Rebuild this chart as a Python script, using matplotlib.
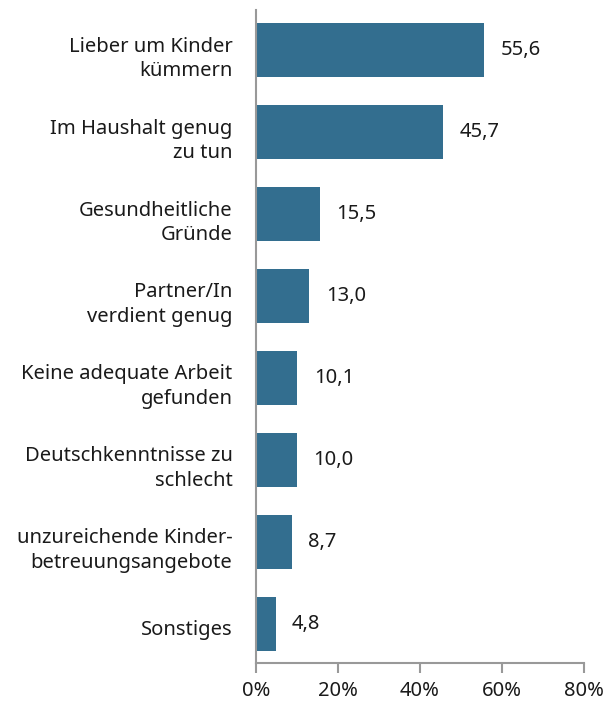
import matplotlib.pyplot as plt
import matplotlib.transforms as mtransforms
from matplotlib.ticker import FuncFormatter

categories = [
    "Lieber um Kinder\nkümmern",
    "Im Haushalt genug\nzu tun",
    "Gesundheitliche\nGründe",
    "Partner/In\nverdient genug",
    "Keine adequate Arbeit\ngefunden",
    "Deutschkenntnisse zu\nschlecht",
    "unzureichende Kinder-\nbetreuungsangebote",
    "Sonstiges",
]
values = [55.6, 45.7, 15.5, 13.0, 10.1, 10.0, 8.7, 4.8]
xticks = [0, 20, 40, 60, 80]

plt.rcParams['font.family'] = ['Noto Sans', 'DejaVu Sans']

fig = plt.figure(figsize=(6.11, 7.03), dpi=100)
ax = fig.add_axes([0.419, 0.057, 0.537, 0.929])

pos = list(range(len(categories)))
ax.barh(pos, values, height=0.66, color='#336e8f')
for p, v in zip(pos, values):
    ax.text(v + 4.0, p, f"{v:.1f}".replace('.', ','), va='center', ha='left', fontsize=14.5, color='#1a1a1a')

ax.set_ylim(7.48, -0.49)
ax.set_xlim(0, 80)
ax.set_xticks(xticks)
ax.xaxis.set_major_formatter(FuncFormatter(lambda x, _: f"{int(x)}%"))
ax.set_yticks(pos)
ax.set_yticklabels(categories, fontsize=14.5, linespacing=1.3, color='#1a1a1a')
ax.tick_params(axis='y', length=0, pad=17)
ax.tick_params(axis='x', length=7, width=1.5, color='#999999', labelsize=14.5, pad=6, labelcolor='#1a1a1a')
# shift the category labels a little downward
shift = mtransforms.ScaledTranslation(0, -3 / 72, fig.dpi_scale_trans)
for lbl in ax.get_yticklabels():
    lbl.set_transform(lbl.get_transform() + shift)
for s in ['top', 'right']:
    ax.spines[s].set_visible(False)
for s in ['left', 'bottom']:
    ax.spines[s].set_color('#999999')
    ax.spines[s].set_linewidth(1.5)

fig.savefig('out.png', dpi=100)
